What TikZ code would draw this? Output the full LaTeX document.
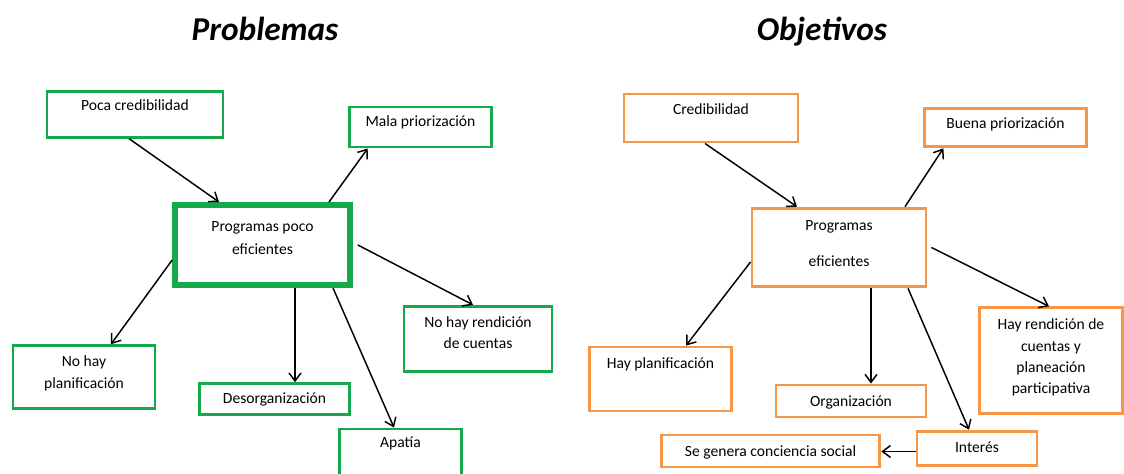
\documentclass[tikz,border=0pt]{standalone}
\usepackage{fontspec}
\setmainfont{Carlito}
\usetikzlibrary{arrows.meta,calc}
\definecolor{probgreen}{RGB}{20,170,75}
\definecolor{objorange}{RGB}{247,150,70}
\tikzset{
  txt/.style={anchor=north,inner sep=0pt,align=center,font=\fontsize{11.7}{16}\selectfont},
  gbox/.style={draw=probgreen,line width=2.2pt,inner sep=0pt},
  obox/.style={draw=objorange,line width=2.2pt,inner sep=0pt},
  title/.style={anchor=base,font=\fontsize{25}{28}\selectfont\bfseries\itshape}
}
\begin{document}
\begin{tikzpicture}[x=0.75pt,y=-0.75pt,->,>={Straight Barb[length=6pt,width=9pt]},line width=1.1pt]
\clip (0,0) rectangle (1124,474);
\node[title] (tprob) at (265,41) {Problemas};
\node[title] (tobj) at (822,41) {Objetivos};
% problemas
\node[gbox,minimum width=132pt,minimum height=34pt,label={[txt,yshift=-6.5pt]north:Poca credibilidad}] (pc) at (135,114.5) {};
\node[gbox,minimum width=107pt,minimum height=30pt,label={[txt,yshift=-6.75pt]north:Mala priorización}] (mp) at (420.5,127) {};
\node[gbox,line width=4.5pt,minimum width=131pt,minimum height=60pt,label={[txt,yshift=-14.25pt]north:Programas poco\\[1pt]eficientes}] (pcen) at (262.5,245) {};
\node[gbox,minimum width=111pt,minimum height=49pt,label={[txt,yshift=-8.25pt]north:No hay rendición\\de cuentas}] (nr) at (478,339) {};
\node[gbox,minimum width=106.5pt,minimum height=47pt,label={[txt,yshift=-8.25pt]north:No hay\\planificación}] (np) at (84,377) {};
\node[gbox,minimum width=112pt,minimum height=23pt,label={[txt,yshift=-7.5pt]north:Desorganización}] (de) at (274.5,399) {};
\node[gbox,minimum width=91pt,minimum height=45pt,label={[txt,yshift=-6.75pt]north:Apatía}] (ap) at (400.5,459) {};
\draw ($(pc.south)+(-6,0)$) -- ($(pcen.north)+(-43.5,0)$);
\draw ($(pcen.north)+(66.5,0)$) -- ($(mp.south west)+(20,0)$);
\draw ($(pcen.west)+(0,15)$) -- ($(np.north)+(27,0)$);
\draw ($(pcen.east)+(5,0)$) -- ($(nr.north)+(-5,0)$);
\draw ($(pcen.south)+(32.5,0)$) -- ($(de.north)+(20.5,0)$);
\draw ($(pcen.south)+(70.5,0)$) -- ($(ap.north)+(-6.5,0)$);
% objetivos
\node[obox,minimum width=130.5pt,minimum height=36pt,label={[txt,yshift=-7.5pt]north:Credibilidad}] (cr) at (711,118) {};
\node[obox,minimum width=121pt,minimum height=29pt,label={[txt,yshift=-7.5pt]north:Buena priorización}] (bp) at (1005.5,127.5) {};
\node[obox,minimum width=130.5pt,minimum height=59pt,label={[txt,yshift=-9.75pt]north:Programas\\[11pt]eficientes}] (ocen) at (839,247.5) {};
\node[obox,minimum width=107pt,minimum height=79pt,label={[txt,yshift=-9pt]north:Hay rendición de\\cuentas y\\planeación\\participativa}] (hr) at (1051,360.5) {};
\node[obox,minimum width=106pt,minimum height=48pt,label={[txt,yshift=-8.25pt]north:Hay planificación}] (hp) at (660.5,379) {};
\node[obox,minimum width=112.5pt,minimum height=24pt,label={[txt,yshift=-8.25pt]north:Organización}] (org) at (851,401) {};
\node[obox,minimum width=90pt,minimum height=26pt,label={[txt,yshift=-8.25pt]north:Interés}] (int) at (977,448.5) {};
\node[obox,minimum width=164pt,minimum height=24pt,label={[txt,yshift=-8.25pt]north:Se genera conciencia social}] (sg) at (770.5,451) {};
\draw ($(cr.south)+(-6,0)$) -- ($(ocen.north)+(-42,0)$);
\draw ($(ocen.north)+(66,0)$) -- ($(bp.south west)+(20,0)$);
\draw ($(ocen.west)+(0,14.5)$) -- ($(hp.north)+(25.5,0)$);
\draw ($(ocen.east)+(4,0)$) -- ($(hr.north)+(-2,0)$);
\draw ($(ocen.south)+(32,0)$) -- ($(org.north)+(20,0)$);
\draw ($(ocen.south)+(69,0)$) -- ($(int.north)+(-8,0)$);
\draw ($(int.west)+(0,3)$) -- ($(sg.east)+(0,0.5)$);
\end{tikzpicture}
\end{document}
